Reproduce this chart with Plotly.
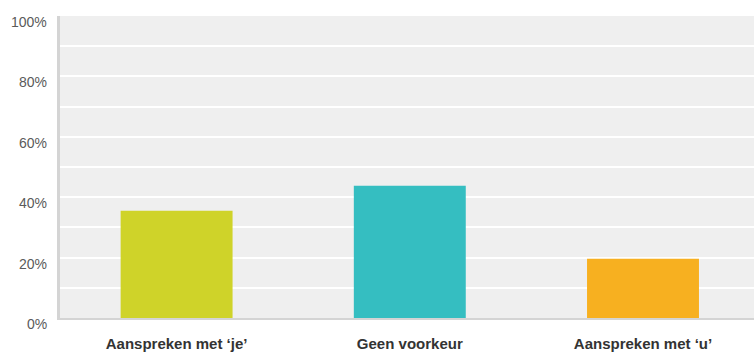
import plotly.graph_objects as go

categories = ["Aanspreken met ‘je’", "Geen voorkeur", "Aanspreken met ‘u’"]
values = [35.5, 43.8, 19.6]
colors = ["#CFD329", "#35BEC1", "#F7B020"]
tick_vals = [0, 20, 40, 60, 80, 100]
tick_text = ["0%", "20%", "40%", "60%", "80%", "100%"]

fig = go.Figure()
fig.add_trace(go.Bar(
    x=list(range(len(categories))), y=values,
    marker=dict(color=colors, line=dict(width=0)),
    width=0.48,
))

for v, t in zip(tick_vals, tick_text):
    fig.add_annotation(
        xref="paper", yref="y", x=0, y=v, text=t, showarrow=False,
        xanchor="right", yanchor="middle", xshift=-11, yshift=-6,
        font=dict(size=14, color="#5A5A5A", family="Liberation Sans, Arial"),
    )

fig.update_layout(
    width=754, height=352,
    margin=dict(l=60, r=0, t=16, b=34),
    paper_bgcolor="white",
    plot_bgcolor="#EFEFEF",
    showlegend=False,
    font=dict(family="Liberation Sans, Arial", color="#555555"),
    xaxis=dict(
        range=[-0.5, 2.476],
        tickmode="array",
        tickvals=list(range(len(categories))),
        ticktext=["<b>" + c + "</b>" for c in categories],
        tickfont=dict(size=15, color="#333333"),
        showgrid=False, zeroline=False,
        showline=True, linecolor="#D4D4D4", linewidth=2,
        ticks="", ticklabelstandoff=11,
    ),
    yaxis=dict(
        range=[0, 100],
        tickvals=tick_vals,
        showticklabels=False,
        showgrid=True, gridcolor="white", gridwidth=2,
        minor=dict(dtick=10, showgrid=True, gridcolor="white", gridwidth=2),
        zeroline=False,
        showline=True, linecolor="#D4D4D4", linewidth=3,
        ticks="",
    ),
)

fig.write_html("out.html")
